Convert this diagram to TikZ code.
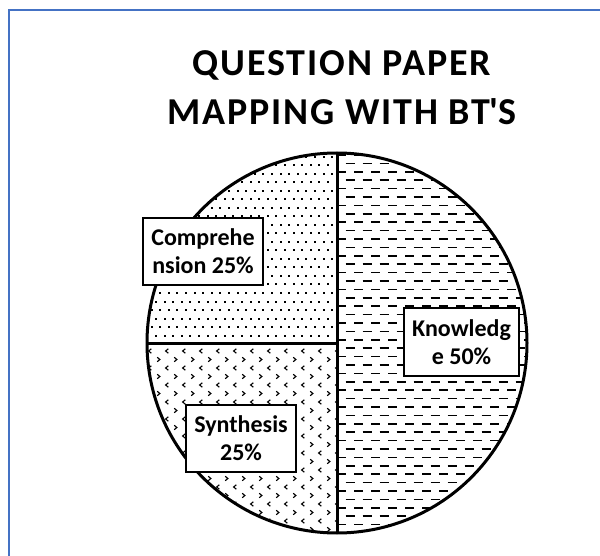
\documentclass[tikz,border=0pt]{standalone}
\usepackage{fontspec}
\setmainfont{Carlito}
\definecolor{frameblue}{HTML}{4472C4}
\begin{document}
\begin{tikzpicture}[x=1pt,y=-1pt,
  borderline/.style={line width=3pt, line cap=butt},
  lblbox/.style={draw, line width=1.3pt, fill=white, align=center, inner sep=0pt,
    font=\fontsize{24}{28}\selectfont\bfseries},
  titletext/.style={font=\fontsize{38}{48}\selectfont\bfseries\addfontfeature{LetterSpace=5}, anchor=base, inner sep=0pt}]
\useasboundingbox (0,0) rectangle (600,556);
\fill[white] (0,0) rectangle (600,556);
% frame
\draw[frameblue, line width=2pt] (9,560) -- (9,10) -- (604,10);
% title
\node[titletext] (t1) at (342,76) {QUESTION PAPER};
\node[titletext] (t2) at (342,125) {MAPPING WITH BT\textquotesingle S};
% pie geometry
\coordinate (c) at (337,343);
\coordinate (top) at (337,153);
\coordinate (bot) at (337,533);
\coordinate (lft) at (147,343);
% right half: dashed rows
\begin{scope}
  \clip (c) circle (190pt);
  \clip (337,140) rectangle (540,545);
  \foreach \j in {0,...,46} {
    \pgfmathsetmacro\yy{155+\j*8.4}
    \pgfmathsetmacro\ph{mod(\j,2)*8.5}
    \draw[line width=1.6pt, dash pattern=on 9pt off 8pt, dash phase=\ph pt] (337,\yy) -- (545,\yy);
  }
\end{scope}
% top-left: dots
\begin{scope}
  \clip (c) circle (190pt);
  \clip (140,140) rectangle (337,343);
  \foreach \j in {0,...,23} {
    \foreach \i in {0,...,23} {
      \pgfmathsetmacro\xx{142+\i*8.6+mod(\j,2)*4.3}
      \pgfmathsetmacro\yy{156+\j*8.5}
      \fill (\xx,\yy) rectangle ++(2,2);
    }
  }
\end{scope}
% bottom-left: chevrons
\begin{scope}
  \clip (c) circle (190pt);
  \clip (140,343) rectangle (337,540);
  \foreach \j in {0,...,23} {
    \foreach \i in {0,...,12} {
      \pgfmathsetmacro\yy{351+\j*8.5}
      \ifodd\j
        \pgfmathsetmacro\xx{150+\i*17+8.5}
        \draw[line width=1.1pt] (\xx-1.3,\yy-2.2) -- (\xx+1.4,\yy) -- (\xx-1.3,\yy+2.2);
      \else
        \pgfmathsetmacro\xx{150+\i*17}
        \draw[line width=1.1pt] (\xx+1.3,\yy-2.2) -- (\xx-1.4,\yy) -- (\xx+1.3,\yy+2.2);
      \fi
    }
  }
\end{scope}
% borders
\draw[borderline] (c) circle (190pt);
\draw[borderline] (top) -- (bot);
\draw[borderline] (lft) -- (c);
% labels
\node[lblbox, minimum width=120pt, minimum height=67pt] (comp) at (203,251.5) {Comprehe\\nsion 25\%};
\node[lblbox, minimum width=115pt, minimum height=68pt] (know) at (461.5,342) {Knowledg\\e 50\%};
\node[lblbox, minimum width=110pt, minimum height=67pt] (synt) at (241,438.5) {Synthesis\\25\%};
\end{tikzpicture}
\end{document}
